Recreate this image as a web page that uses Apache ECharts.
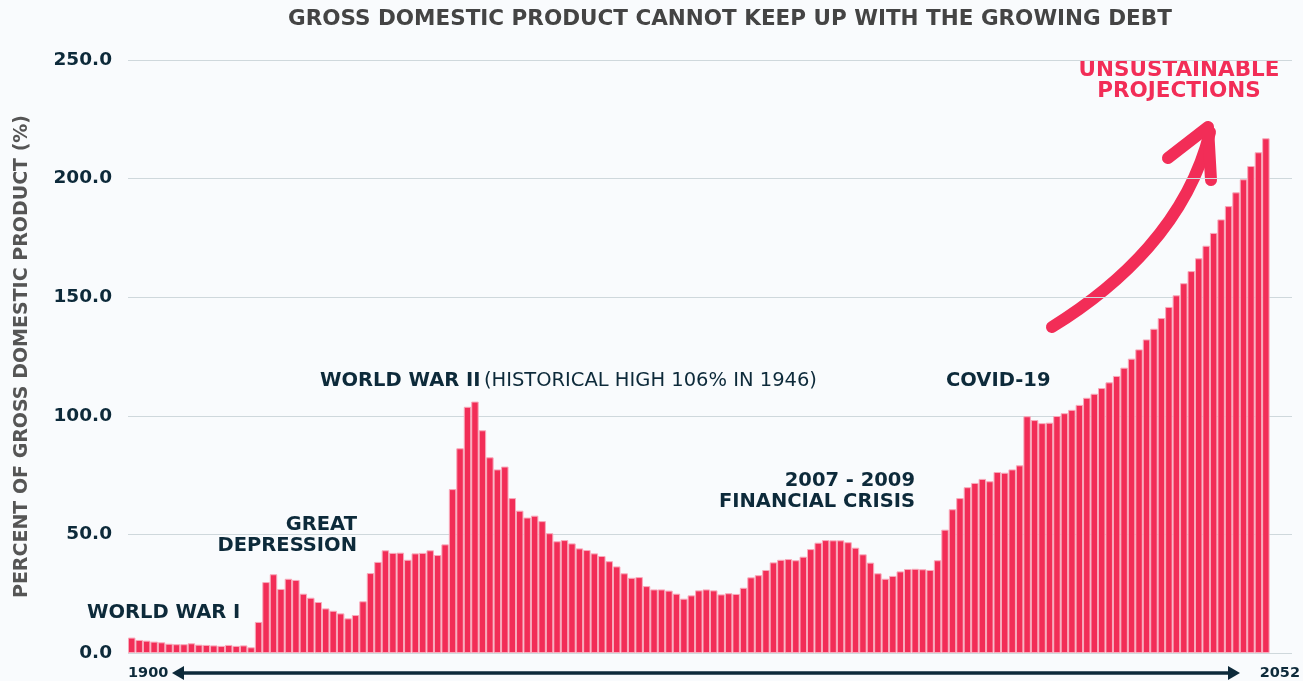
<!DOCTYPE html>
<html>
<head>
<meta charset="utf-8">
<script src="https://cdn.jsdelivr.net/npm/echarts@6/dist/echarts.min.js"></script>
<style>
html,body{margin:0;padding:0;background:#f9fbfd;}
#chart{width:1303px;height:681px;}
</style>
</head>
<body>
<div id="chart"></div>
<script>
// Years 1900..2052
const years = [];
for (let y = 1900; y <= 2052; y++) years.push(String(y));

const debt1900_1916 = [6.5, 5.5, 5.2, 4.8, 4.5, 3.9, 3.7, 3.7, 4.1, 3.5, 3.4, 3.2, 3.0, 3.4, 3.0, 3.2, 2.4];
const debt1917_1949 = [13.1, 29.9, 33.2, 27.0, 31.3, 30.8, 25.0, 23.3, 21.5, 18.8,
  17.8, 16.7, 14.6, 16.0, 21.8, 33.7, 38.4, 43.3, 42.2, 42.3,
  39.3, 42.0, 42.2, 43.3, 41.3, 45.8, 69.1, 86.3, 103.8, 106.0,
  93.9, 82.5, 77.4];
const debt1950_1985 = [78.6, 65.3, 60.0, 57.1, 57.9, 55.6, 50.5, 47.1, 47.6, 46.2,
  44.1, 43.4, 42.0, 40.9, 38.7, 36.5, 33.6, 31.7, 32.0, 28.2,
  26.8, 26.8, 26.3, 25.0, 22.9, 24.3, 26.4, 26.8, 26.4, 24.7,
  25.2, 24.9, 27.5, 31.9, 32.8, 35.0];
const debt1986_2019 = [38.2, 39.3, 39.6, 39.1, 40.6, 43.8, 46.5, 47.6, 47.5, 47.5,
  46.7, 44.4, 41.6, 38.1, 33.6, 31.3, 32.5, 34.4, 35.4, 35.5,
  35.3, 35.0, 39.1, 52.0, 60.6, 65.3, 69.9, 71.7, 73.4, 72.4,
  76.3, 76.0, 77.4, 79.1];
const debt2020_2052 = [99.8, 98.2, 96.9, 97.1, 99.9, 101.1, 102.5, 104.6, 107.6, 109.3,
  111.7, 114.1, 116.8, 120.3, 124.1, 128.0, 132.2, 136.7, 141.2, 145.9,
  150.8, 155.9, 161.0, 166.4, 171.7, 177.1, 182.8, 188.4, 194.2, 199.7,
  205.3, 211.1, 217.0];
const debtValues = [].concat(debt1900_1916, debt1917_1949, debt1950_1985, debt1986_2019, debt2020_2052);

const yTicks = [0, 50, 100, 150, 200, 250];

const titleText = 'GROSS DOMESTIC PRODUCT CANNOT KEEP UP WITH THE GROWING DEBT';
const yAxisTitle = 'PERCENT OF GROSS DOMESTIC PRODUCT (%)';

const FONT = '"DejaVu Sans", Verdana, sans-serif';
const NAVY = '#0d2a3a';
const RED = '#f22d57';
const AN = 19.5; // annotation font size

const chart = echarts.init(document.getElementById('chart'), null, {renderer: 'canvas'});

function label(x, y, text, align, size, color, weight) {
  return {
    type: 'text', x: x, y: y,
    style: {
      text: text, align: align, verticalAlign: 'middle', lineHeight: 21,
      fontFamily: FONT, fontWeight: weight || 'bold', fontSize: size, fill: color
    }
  };
}

chart.setOption({
  backgroundColor: '#f9fbfd',
  animation: false,
  title: {
    text: titleText,
    left: 283,
    top: 3,
    textStyle: {fontFamily: FONT, fontWeight: 'bold', fontSize: 21.5, color: '#444444'}
  },
  grid: {left: 128, right: 11, top: 60, bottom: 28, containLabel: false, outerBoundsMode: 'none'},
  xAxis: {
    type: 'category',
    data: years,
    max: years.length + 2,
    boundaryGap: true,
    axisLine: {show: false},
    axisTick: {show: false},
    axisLabel: {show: false},
    splitLine: {show: false}
  },
  yAxis: {
    type: 'value',
    min: yTicks[0],
    max: yTicks[yTicks.length - 1],
    interval: 50,
    name: yAxisTitle,
    nameLocation: 'middle',
    nameRotate: 90,
    nameGap: 96,
    nameTextStyle: {fontFamily: FONT, fontWeight: 'bold', fontSize: 19, color: '#555555'},
    axisLine: {show: false},
    axisTick: {show: false},
    axisLabel: {
      margin: 16,
      fontFamily: FONT, fontWeight: 'bold', fontSize: 18.5, color: NAVY,
      formatter: v => v.toFixed(1)
    },
    splitLine: {lineStyle: {color: '#cfd8dc', width: 1}}
  },
  series: [{
    type: 'bar',
    data: debtValues,
    barCategoryGap: '0%',
    itemStyle: {color: RED, borderColor: '#f8aabb', borderWidth: 1}
  }],
  graphic: [
    label(87, 613, 'WORLD WAR I', 'left', AN, NAVY),
    label(357, 535.5, 'GREAT\nDEPRESSION', 'right', AN, NAVY),
    {type: 'text', x: 320, y: 381, style: {
      text: '{b|WORLD WAR II} {n|(HISTORICAL HIGH 106% IN 1946)}',
      verticalAlign: 'middle',
      rich: {
        b: {fontFamily: FONT, fontWeight: 'bold', fontSize: AN, fill: NAVY},
        n: {fontFamily: FONT, fontWeight: 'normal', fontSize: AN, fill: NAVY}
      }
    }},
    label(915, 491.5, '2007 - 2009\nFINANCIAL CRISIS', 'right', AN, NAVY),
    label(946, 381, 'COVID-19', 'left', AN, NAVY),
    label(1179, 80.5, 'UNSUSTAINABLE\nPROJECTIONS', 'center', 21.5, RED),
    {type: 'bezierCurve', shape: {x1: 1052, y1: 327, cpx1: 1120, cpy1: 285, cpx2: 1188, cpy2: 222, x2: 1210, y2: 132},
      style: {fill: null, stroke: RED, lineWidth: 12, lineCap: 'round'}},
    {type: 'polyline', shape: {points: [[1168, 158], [1208, 127], [1211, 180]]},
      style: {fill: null, stroke: RED, lineWidth: 12, lineCap: 'round', lineJoin: 'round'}},
    label(128, 673, years[0], 'left', 14.5, NAVY),
    label(1300, 673, years[years.length - 1], 'right', 14.5, NAVY),
    {type: 'line', shape: {x1: 180, y1: 673, x2: 1230, y2: 673}, style: {stroke: NAVY, lineWidth: 3.5}},
    {type: 'polygon', shape: {points: [[172, 673], [184, 666], [184, 680]]}, style: {fill: NAVY}},
    {type: 'polygon', shape: {points: [[1240, 673], [1228, 666], [1228, 680]]}, style: {fill: NAVY}}
  ]
});
</script>
</body>
</html>
